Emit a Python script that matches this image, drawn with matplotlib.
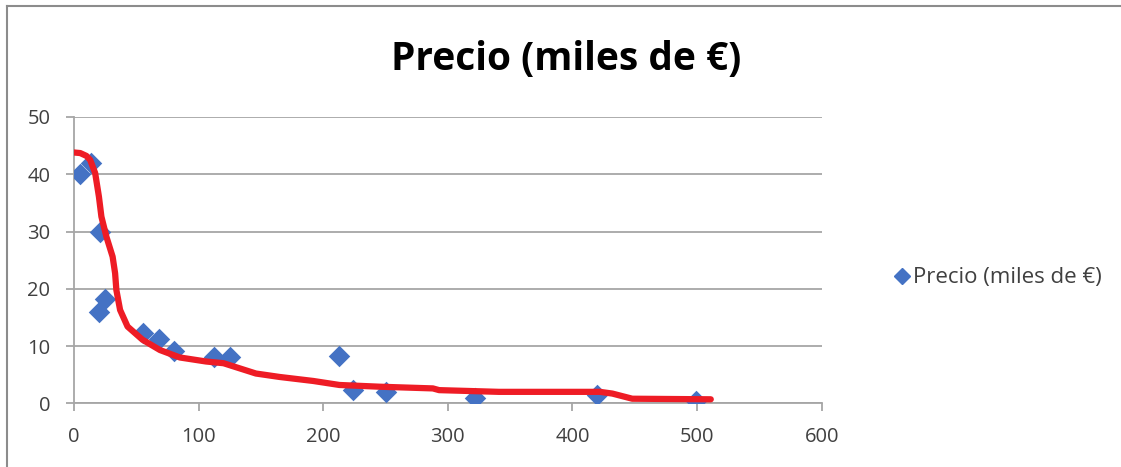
import numpy as np
import matplotlib.pyplot as plt
from matplotlib.lines import Line2D

plt.rcParams['font.family'] = ['Open Sans', 'DejaVu Sans']

# datos
km = [5, 14, 21, 20, 25, 55, 68, 80, 112, 125, 213, 224, 250, 322, 420, 499]
precio = [40, 42, 30, 16, 18.2, 12.2, 11.2, 9.2, 8.1, 8.0, 8.3, 2.3, 1.9, 1.0, 1.4, 0.45]

# curva roja dibujada a mano
curva_x = [0, 5, 10, 13, 17, 20, 22, 26, 31, 33, 34, 37, 43, 55, 69, 85, 106, 120,
           133, 146, 165, 192, 213, 245, 288, 293, 341, 422, 432, 448, 511]
curva_y = [43.8, 43.7, 43.2, 42.5, 40.2, 36.1, 32.6, 29.1, 25.6, 22.7, 19.8, 16.3, 13.4,
           11.1, 9.3, 8.0, 7.3, 7.0, 6.1, 5.2, 4.6, 3.9, 3.2, 2.9, 2.6, 2.3, 2.0, 2.0,
           1.7, 0.8, 0.7]

TITULO = "Precio (miles de €)"
AZUL = "#4472C4"
GRIS = "#A6A6A6"
TEXTO = "#404040"

fig = plt.figure(figsize=(11.21, 4.67), dpi=100)
ax = fig.add_axes([0.066, 0.1364, 0.667, 0.6131])

ax.grid(axis="y", color=GRIS, linewidth=1.3)
ax.set_axisbelow(True)
ax.scatter(km, precio, marker="D", s=120, color=AZUL, zorder=3, linewidths=0)
ax.plot(curva_x, curva_y, color="#EE1C25", linewidth=4.5, solid_capstyle="round",
        solid_joinstyle="round", zorder=4)

ax.set_xlim(0, 600)
ax.set_ylim(0, 50)
ax.set_xticks(np.arange(0, 601, 100))
ax.set_yticks(np.arange(0, 51, 10))
for s in ["top", "right"]:
    ax.spines[s].set_visible(False)
for s in ["left", "bottom"]:
    ax.spines[s].set_color(GRIS)
    ax.spines[s].set_linewidth(1.3)
ax.tick_params(colors=GRIS, labelcolor=TEXTO, labelsize=14.5, length=6, width=1.3)
ax.tick_params(axis="x", pad=11)
ax.tick_params(axis="y", pad=11)

fig.text(0.505, 0.872, TITULO, ha="center", va="center", fontsize=28,
         fontweight="bold", color="black")

marca = Line2D([], [], marker="D", color=AZUL, linestyle="none", markersize=8)
fig.legend([marca], [TITULO], loc="center left", bbox_to_anchor=(0.777, 0.405),
           frameon=False, fontsize=16, handletextpad=0.0, handlelength=1.0,
           labelcolor=TEXTO)

# marco exterior
fig.add_artist(Line2D([0.006, 1], [0.987, 0.987], color="#8C8C8C", linewidth=1.5))
fig.add_artist(Line2D([0.006, 0.006], [0, 0.987], color="#8C8C8C", linewidth=1.5))

fig.savefig("out.png", dpi=100)
